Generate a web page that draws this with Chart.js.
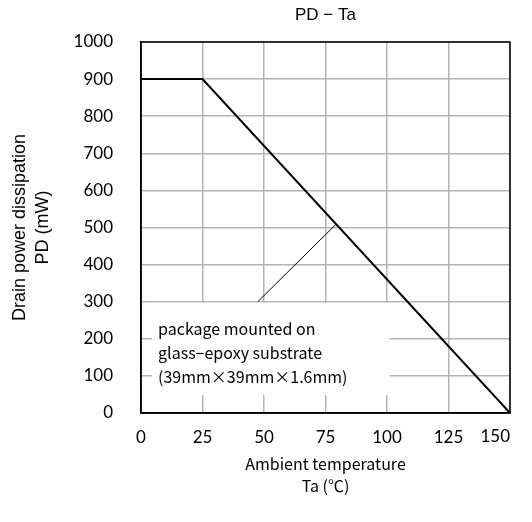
<!DOCTYPE html>
<html>
<head>
<meta charset="utf-8">
<script src="https://cdn.jsdelivr.net/npm/chart.js@4.4.1/dist/chart.umd.min.js"></script>
<style>
  html, body { margin: 0; padding: 0; background: #fff; }
  #wrap { width: 532px; height: 522px; }
</style>
</head>
<body>
<div id="wrap"><canvas id="grafico" width="532" height="522"></canvas></div>
<script>
// curva de derating PD - Ta
const temperatura = [0, 25, 150]
const potencia = [900, 900, 0]

// linha de chamada da nota
const notaX = [47.5, 79.3]
const notaY = [300, 509]

const ticksX = [0, 25, 50, 75, 100, 125, 150]
const ticksY = [0, 100, 200, 300, 400, 500, 600, 700, 800, 900, 1000]

const titulo = 'PD − Ta'
const tituloY = ['Drain power dissipation', 'PD (mW)']
const tituloX = ['Ambient temperature', 'Ta (℃)']
const nota = ['package mounted on', 'glass−epoxy substrate', '(39mm×39mm×1.6mm)']

const fonteTick = { family: 'Lato', size: 17 }
const fonteJp = '16px "Noto Sans CJK JP"'

// caixa branca da nota, moldura e textos fora do gráfico
const textos = {
  id: 'textos',
  beforeDatasetsDraw(chart) {
    const { ctx, scales: { x, y } } = chart
    ctx.save()
    ctx.fillStyle = '#fff'
    const x0 = x.getPixelForValue(4.5), x1 = x.getPixelForValue(101)
    const y0 = y.getPixelForValue(297), y1 = y.getPixelForValue(48)
    ctx.fillRect(x0, y0, x1 - x0, y1 - y0)
    ctx.fillStyle = '#000'
    ctx.font = fonteJp
    ctx.textAlign = 'left'
    ctx.textBaseline = 'middle'
    nota.forEach((t, i) => ctx.fillText(t, x0 + 6, y0 + 26 + i * 24))
    ctx.restore()
  },
  afterDraw(chart) {
    const { ctx, chartArea: a, scales: { x } } = chart
    const cx = (a.left + a.right) / 2
    const cy = (a.top + a.bottom) / 2
    ctx.save()
    ctx.strokeStyle = '#000'
    ctx.lineWidth = 1.5
    ctx.strokeRect(a.left, a.top, a.right - a.left, a.bottom - a.top)

    ctx.fillStyle = '#000'
    // ultimo rotulo do eixo x fica alinhado pela borda
    ctx.font = `${fonteTick.size}px ${fonteTick.family}`
    ctx.textAlign = 'right'
    ctx.textBaseline = 'top'
    ctx.fillText(String(ticksX[ticksX.length - 1]), x.getPixelForValue(ticksX[ticksX.length - 1]), a.bottom + 15)

    ctx.textAlign = 'center'
    ctx.textBaseline = 'middle'
    ctx.font = '17px "Liberation Sans"'
    ctx.fillText(titulo, cx, 15)
    ctx.font = fonteJp
    tituloX.forEach((t, i) => ctx.fillText(t, cx, 464 + i * 22))
    ctx.translate(0, cy)
    ctx.rotate(-Math.PI / 2)
    ctx.font = '18px "Liberation Sans"'
    tituloY.forEach((t, i) => ctx.fillText(t, 0, 20 + i * 23))
    ctx.restore()
  }
}

new Chart(document.getElementById('grafico'), {
  type: 'scatter',
  data: {
    datasets: [
      {
        data: temperatura.map((t, i) => ({ x: t, y: potencia[i] })),
        showLine: true,
        borderColor: '#000',
        borderWidth: 2,
        pointRadius: 0,
        tension: 0
      },
      {
        data: notaX.map((t, i) => ({ x: t, y: notaY[i] })),
        showLine: true,
        borderColor: '#000',
        borderWidth: 1,
        pointRadius: 0,
        tension: 0
      }
    ]
  },
  options: {
    responsive: false,
    animation: false,
    layout: { padding: { left: 0, top: 42, right: 22, bottom: 0 } },
    plugins: { legend: { display: false }, tooltip: { enabled: false } },
    scales: {
      x: {
        type: 'linear',
        min: 0,
        max: 150,
        afterBuildTicks: s => { s.ticks = ticksX.map(v => ({ value: v })) },
        afterFit: s => { s.height = 109 },
        ticks: {
          color: '#000', font: fonteTick, padding: 14, maxRotation: 0,
          callback: v => v === ticksX[ticksX.length - 1] ? '' : String(v)
        },
        grid: { color: '#b4b4b4', lineWidth: 1.5, drawTicks: false },
        border: { color: '#000', width: 1.5 }
      },
      y: {
        type: 'linear',
        min: 0,
        max: 1000,
        afterBuildTicks: s => { s.ticks = ticksY.map(v => ({ value: v })) },
        afterFit: s => { s.width = 141 },
        ticks: { color: '#000', font: fonteTick, padding: 28, callback: v => String(v) },
        grid: { color: '#b4b4b4', lineWidth: 1.5, drawTicks: false },
        border: { color: '#000', width: 1.5 }
      }
    }
  },
  plugins: [textos]
})
</script>
</body>
</html>
